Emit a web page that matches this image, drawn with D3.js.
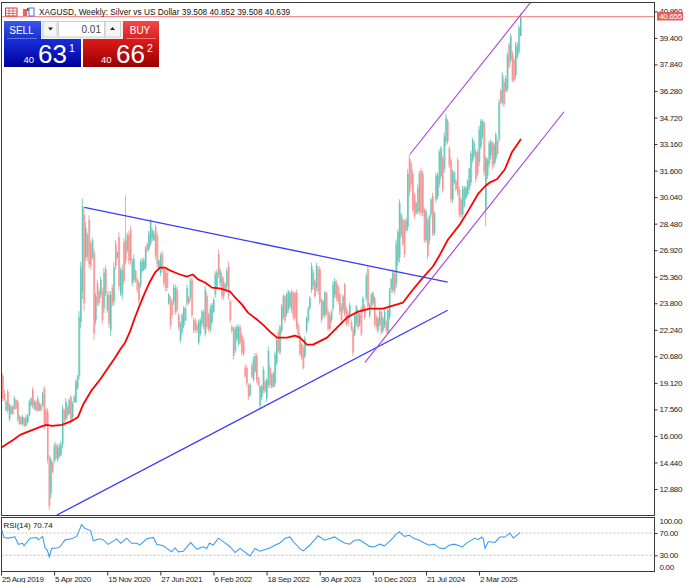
<!DOCTYPE html>
<html><head><meta charset="utf-8">
<script src="https://cdn.jsdelivr.net/npm/d3@7"></script>
<style>html,body{margin:0;padding:0;background:#fff;overflow:hidden}svg{display:block}text{font-family:"Liberation Sans",Arial,sans-serif}</style>
</head><body><svg id="c" width="690" height="583"></svg>
<script>
const priceTicks=[12.88,14.44,16,17.56,19.12,20.68,22.24,23.8,25.36,26.92,28.48,30.04,31.6,33.16,34.72,36.28,37.84,39.4,40.96];
const rsiTicks=[0,30,70,100];
const dateWeeks=[0,32,64,96,128,160,192,224,256,288];
const dateLabels=["25 Aug 2019","5 Apr 2020","15 Nov 2020","27 Jun 2021","6 Feb 2022","18 Sep 2022","30 Apr 2023","10 Dec 2023","21 Jul 2024","2 Mar 2025"];
const lastPrice=40.655;
const highs=[19.70,18.71,18.13,18.75,17.93,17.83,17.83,18.36,18.16,18.13,
17.24,17.18,17.24,17.10,17.24,17.30,18.13,18.28,18.87,18.13,
18.13,18.36,18.03,17.93,18.62,18.95,17.63,17.63,14.88,14.79,
14.49,15.57,15.67,15.47,15.57,15.67,17.83,17.63,18.22,17.83,
18.22,18.42,18.03,18.42,19.30,19.60,23.33,26.22,29.95,29.42,
28.54,27.95,28.97,27.46,27.65,27.00,24.41,25.20,24.65,25.35,
24.71,25.88,26.02,24.51,24.51,24.51,24.90,26.18,27.51,26.87,
27.99,25.88,26.08,27.65,30.15,27.95,28.05,28.34,26.47,26.67,
25.79,25.30,25.10,26.38,26.47,26.47,27.16,27.36,28.05,28.77,
28.24,28.05,28.44,27.95,26.38,26.77,26.87,25.88,25.79,25.79,
24.41,24.22,24.02,24.90,24.90,24.80,23.23,22.74,23.23,23.63,
23.63,24.90,24.22,25.29,25.39,22.93,22.93,22.64,22.84,22.93,
23.43,23.43,24.80,24.41,23.23,23.72,23.82,24.11,25.68,25.78,
26.96,25.88,25.59,25.29,25.00,25.88,26.27,24.01,22.54,22.44,
22.44,22.54,22.54,22.54,22.05,21.76,20.18,20.18,19.10,19.10,
20.28,20.67,20.87,20.87,19.50,19.00,19.00,20.09,19.30,19.40,
21.26,20.18,19.69,19.79,20.97,21.76,22.25,22.54,23.72,24.31,
24.31,24.41,24.60,24.50,24.60,24.50,24.50,24.60,22.64,22.05,
21.46,21.36,21.86,23.03,23.62,24.21,26.18,25.78,25.19,26.18,
25.98,25.98,24.11,24.02,24.51,24.51,23.43,23.23,23.43,25.10,
25.29,25.19,24.90,24.41,23.82,24.31,25.00,23.62,23.33,23.82,
22.84,22.44,23.23,23.72,23.43,23.23,23.62,24.21,23.72,25.59,
25.98,23.82,24.41,24.51,24.21,23.13,23.03,23.43,23.43,23.03,
23.43,22.84,23.52,24.70,25.29,25.78,25.68,27.55,28.14,29.91,
29.12,28.83,28.73,28.83,31.68,32.56,32.17,31.58,30.30,29.81,
30.79,31.58,31.77,31.58,29.42,29.32,28.83,29.02,30.01,30.30,
29.22,31.48,31.48,32.85,33.05,32.46,33.84,34.92,34.62,33.05,
32.36,31.68,31.58,31.09,32.36,30.69,30.01,30.69,30.69,30.69,
31.09,31.77,32.76,33.54,33.35,32.85,32.85,34.23,34.62,34.62,
34.52,32.46,32.36,33.35,33.44,33.35,33.25,33.84,33.44,35.80,
36.40,37.38,36.99,37.18,38.56,39.15,39.64,38.66,38.26,39.15,
39.15,40.13,40.85];
const lows=[18.03,18.03,17.44,17.34,16.85,17.24,17.24,17.54,17.54,16.85,
16.65,16.65,16.59,16.51,16.55,16.75,17.14,17.73,17.63,17.54,
17.44,17.44,17.44,17.44,17.73,16.36,16.51,14.39,11.64,12.33,
13.80,14.39,14.59,14.49,14.69,14.79,15.28,16.75,16.85,17.04,
17.24,16.75,16.95,17.93,17.93,18.71,19.30,22.35,24.02,23.33,
26.28,26.28,25.88,25.79,26.38,21.66,22.55,23.63,23.63,24.12,
22.55,23.23,24.22,23.23,22.35,21.90,23.63,23.63,25.79,26.38,
24.51,24.22,24.02,24.90,26.08,26.77,26.08,26.08,24.80,25.00,
25.00,24.41,23.82,24.71,25.59,25.69,25.79,26.77,26.87,27.16,
27.46,27.46,26.38,25.88,25.69,25.39,25.59,24.80,24.51,24.51,
23.72,22.25,22.94,23.72,23.14,23.23,22.25,21.47,21.96,22.35,
22.74,23.63,23.72,23.92,22.93,22.05,22.05,22.05,21.36,21.85,
22.44,22.25,21.85,22.25,22.15,22.05,22.54,23.23,24.11,24.60,
25.29,24.80,24.01,24.01,24.50,24.60,24.01,22.64,22.05,20.48,
20.87,21.56,21.26,21.36,20.77,20.67,19.40,18.91,18.12,18.32,
19.40,19.20,19.69,19.10,18.91,17.57,18.12,18.52,18.52,18.02,
18.81,18.81,18.81,18.81,18.91,20.18,20.87,20.77,22.05,22.84,
22.64,23.03,23.23,23.52,23.23,22.84,22.74,22.25,21.76,20.68,
20.48,19.89,20.58,22.05,22.64,23.43,24.41,24.60,24.11,24.50,
24.31,23.72,22.64,22.94,22.94,23.03,22.15,22.15,22.64,23.33,
24.11,23.92,23.72,23.13,22.64,23.23,23.03,22.44,22.44,22.94,
22.15,20.68,21.86,22.44,22.25,22.44,21.86,23.23,22.84,23.92,
23.43,22.94,23.52,23.62,22.44,22.25,22.05,22.44,21.95,22.05,
22.35,22.05,21.95,22.84,24.41,24.41,24.31,24.70,26.00,26.18,
27.65,27.16,26.47,27.94,28.04,30.10,30.60,29.12,28.73,29.02,
29.02,29.02,28.93,28.93,27.36,27.36,26.37,27.26,28.83,27.75,
27.75,29.71,29.91,30.60,31.09,30.30,31.48,33.05,33.15,31.77,
29.71,29.71,30.79,30.40,30.10,28.83,28.83,28.83,29.42,29.91,
30.10,30.40,30.69,32.07,32.36,30.89,31.28,31.87,32.85,33.44,
31.28,28.34,31.09,31.77,32.26,31.68,31.77,32.07,32.46,33.25,
35.51,35.42,35.32,36.20,36.20,37.58,37.97,36.79,36.79,36.99,
38.16,38.46,39.51];
const opens=[19.5,18.5,17.5,18.6,17.0,17.3,17.7,17.6,18.1,18.0,
16.7,17.1,16.7,17.0,16.6,16.8,17.2,17.8,18.7,17.6,
18.0,18.2,17.5,17.8,17.8,18.8,17.5,17.4,14.7,12.6,
14.4,14.5,15.5,14.6,14.8,14.9,15.5,17.5,17.0,17.7,
17.3,18.3,17.1,18.0,18.0,18.8,19.5,22.7,24.5,29.0,
26.5,27.8,28.7,27.3,26.5,26.8,22.8,25.0,24.5,24.3,
24.5,23.5,25.8,23.4,24.3,22.2,24.7,23.9,27.3,26.5,
27.7,24.4,24.3,27.4,27.5,26.9,27.8,28.1,25.0,25.2,
25.7,25.2,25.0,24.9,25.7,25.8,25.9,27.3,27.0,27.3,
27.6,27.5,28.3,27.8,25.8,25.6,26.7,25.8,25.6,25.6,
23.8,24.1,23.9,23.9,23.3,24.6,23.1,21.6,22.1,22.5,
22.8,23.8,24.1,24.1,25.2,22.8,22.8,22.5,21.5,22.0,
22.6,23.3,22.0,24.2,23.1,22.2,22.7,23.3,24.3,24.8,
26.7,25.0,25.4,25.1,24.6,24.8,26.0,23.9,22.4,22.3,
21.0,21.7,21.4,22.4,21.9,21.6,20.0,20.0,19.0,18.4,
20.1,19.3,19.8,20.7,19.4,17.8,18.3,18.7,19.2,18.2,
19.0,20.0,19.6,18.9,19.1,20.3,22.1,20.9,22.2,23.0,
24.2,23.2,23.4,23.6,24.5,24.4,24.4,24.4,22.5,21.9,
21.4,21.2,20.7,22.2,22.8,23.5,24.6,24.8,25.1,24.7,
25.8,25.8,24.0,23.1,23.1,24.4,23.3,23.1,22.8,23.5,
24.3,25.0,24.8,24.3,23.7,23.4,24.9,23.5,23.2,23.1,
22.7,22.3,22.0,22.6,23.3,22.6,23.5,23.4,23.6,24.1,
25.8,23.1,23.7,23.8,24.1,23.0,22.2,22.6,23.3,22.2,
22.5,22.7,22.1,23.0,24.6,24.6,25.5,24.9,26.3,26.5,
27.8,28.7,28.6,28.1,28.3,32.3,32.0,31.4,30.2,29.1,
30.6,29.2,31.6,31.4,29.3,27.5,28.7,27.5,29.0,30.1,
27.9,29.9,30.1,30.8,31.3,32.3,31.7,33.3,34.5,32.9,
32.2,29.9,30.9,31.0,32.2,30.5,29.9,29.0,29.5,30.0,
30.2,30.5,30.9,32.2,32.5,32.7,32.7,32.1,33.0,33.6,
34.4,29.3,31.3,32.0,32.5,33.2,32.0,32.3,33.3,33.4,
36.3,35.6,36.8,36.3,36.4,39.0,38.1,38.5,38.1,37.2,
38.3,38.6,39.51];
const closes=[18.2,18.1,18.0,17.5,17.8,17.7,17.3,18.2,17.6,17.0,
17.1,16.7,17.1,16.6,17.1,17.2,18.0,18.2,17.8,18.0,
17.5,17.5,17.9,17.5,18.5,16.6,16.6,14.6,11.9,14.6,
13.9,15.4,14.7,15.3,15.4,15.5,17.6,16.9,18.0,17.2,
18.1,16.9,17.9,18.3,19.2,19.5,23.0,25.9,29.5,23.8,
28.2,26.5,26.1,26.0,27.5,22.0,24.2,23.8,23.8,25.2,
22.8,25.6,24.4,24.3,22.6,24.3,23.8,25.9,26.0,26.8,
24.8,25.7,25.8,25.1,26.3,27.8,26.3,26.3,26.3,26.4,
25.1,24.6,24.0,26.2,26.3,26.3,27.0,26.9,27.9,28.6,
28.1,27.9,26.6,26.1,26.3,26.6,25.8,25.0,24.7,24.7,
24.3,22.5,23.1,24.7,24.7,23.4,22.4,22.6,23.1,23.5,
23.5,24.7,23.8,25.1,23.1,22.2,22.2,22.2,22.7,22.8,
23.3,22.4,24.6,22.4,22.3,23.5,23.7,24.0,25.5,25.6,
25.5,25.7,24.2,24.2,24.9,25.7,24.2,22.8,22.2,20.7,
22.3,22.4,22.4,21.5,20.9,20.8,19.5,19.1,18.3,19.0,
19.5,20.5,20.7,19.3,19.0,18.9,18.9,19.9,18.6,19.3,
21.0,19.0,18.9,19.7,20.8,21.6,21.0,22.4,23.6,24.2,
22.8,24.3,24.5,24.4,23.4,23.0,22.9,22.4,21.9,20.8,
20.6,20.0,21.7,22.9,23.5,24.1,26.0,25.6,24.2,26.0,
24.5,23.9,22.8,23.9,24.4,23.2,22.3,22.3,23.3,24.9,
25.1,24.1,23.9,23.3,22.8,24.2,23.2,22.6,22.6,23.7,
22.3,20.9,23.1,23.6,22.4,23.1,22.0,24.1,23.0,25.4,
23.6,23.7,24.3,24.4,22.6,22.4,22.9,23.3,22.1,22.9,
23.3,22.2,23.4,24.5,25.2,25.6,24.5,27.3,28.0,29.7,
29.0,27.3,26.7,28.7,31.4,30.3,30.8,29.3,28.9,29.7,
29.2,31.4,29.1,29.1,27.5,29.2,26.6,28.9,29.9,27.9,
29.1,31.3,31.3,32.7,32.9,30.5,33.6,34.7,33.3,31.9,
29.9,31.5,31.5,30.5,30.3,29.0,29.0,30.5,30.6,30.6,
31.0,31.7,32.6,33.4,33.2,31.1,31.4,34.0,34.5,34.5,
31.5,32.3,32.2,33.2,33.3,31.9,33.1,33.7,32.6,35.6,
35.6,37.2,35.5,37.0,38.4,37.7,39.5,36.9,36.9,38.9,
39.0,40.0,40.64];
const maWeeks=[0,8.4,11.4,17.5,25.3,27.7,30.7,36.7,42.8,46.4,49.4,54.8,59.6,68.7,71.7,74.7,77.7,80.7,83.7,86.7,89.8,92.8,95.8,98.8,101.8,104.8,107.8,111.9,115.5,118.7,122.9,127.1,131.9,138,141,145.2,148.8,154.2,157.8,162,166.3,172.3,177.1,180.1,184.3,188,196.4,202.4,208.4,215.1,222.3,230.1,236.1,242.2,248.2,254.2,260.2,264.5,269.3,276.5,281.3,287.3,291.6,294.6,298.8,303.6,307.8,313.3];
const maValues=[15.30,15.83,16.06,16.30,16.59,16.65,16.59,16.65,16.89,17.12,17.83,18.71,19.30,20.60,21.07,21.48,22.13,22.96,23.72,24.43,25.08,25.61,25.90,25.90,25.73,25.61,25.49,25.37,25.49,25.20,25.02,24.72,24.67,24.49,24.14,23.72,23.25,22.84,22.54,22.13,21.78,21.78,21.90,21.78,21.37,21.37,21.78,22.37,22.96,23.31,23.49,23.49,23.66,23.84,24.61,25.31,25.96,26.67,27.55,28.44,29.20,30.21,30.68,30.91,31.09,31.68,32.68,33.45];
const rsiWeeks=[0.4,1.8,4.4,8.4,10.4,13,13.9,17.5,21.5,22.5,25.1,26.5,27.9,29.1,30.5,34.5,35.5,38.6,42.6,45.6,48.6,50.6,54,55.6,59.6,61.6,64.6,69.7,72.1,75.7,78.7,81.7,83.7,87.8,91.8,93.8,97.8,102.8,104.8,106.8,109.8,114.3,117.9,121.9,123.9,125.5,127.9,130.9,133.9,138,141,144,150,153,156,162,165,168,171,174,176,178,180,182,186,189,191,195,198,201,204,207,210,213,216,219,222,225,228,231,234,236,238,240,243,246,249,252,255,258,261,264,267,270,273,276,278,280.5,285.5,287.5,289.6,290.6,291.6,293.6,297.6,300.6,303.6,306.6,308.6,312.7];
const rsiValues=[76.2,62,60.8,63.2,49.7,51.6,47.2,60.8,62,57.7,63.9,43.6,39.3,27,42.3,43.6,45.4,57.7,59.5,63.9,85.4,78,74.3,55.9,59.5,57.7,49.7,59.5,51.6,60.8,51.6,51.6,48.5,59.5,62,49.7,47.2,36.2,43.6,36.2,37.4,52.8,41.1,45.4,42.3,51.6,48.5,60.8,54.6,45.4,35,42.3,28.8,42.3,37.4,43,48,52,60,63,55,48.5,42,38,48,58,65,57,60,63,57,52,50,57,58,52,46,45,50,47,55,61,68,72,64,66,60,57,52,48,50,43,42,48,50,47,45,51.8,60.9,57.9,62.7,59.1,42.7,54.8,53,62.7,62.7,70,60.9,70.74];
const blueUpperWeeks=[50.2,269.1], blueUpperPrices=[29.44,25.04];
const blueLowerWeeks=[33.7,269.1], blueLowerPrices=[11.35,23.39];
const purpleUpperWeeks=[246.4,319.3], purpleUpperPrices=[32.56,41.52];
const purpleLowerWeeks=[219.3,339.2], purpleLowerPrices=[20.32,35.06];

const svg=d3.select("#c");
const L=1.5,R=654.5,T=3,MB=515.5,RT=517.5,RB=571.5;
const x=d3.scaleLinear().domain([0,393.4]).range([1,654]);
const y=d3.scaleLinear().domain([12.88,39.4]).range([489,37.9]);
const ry=d3.scaleLinear().domain([0,100]).range([572,516.3]);
const defs=svg.append("defs");
function grad(id,a,b){const g=defs.append("linearGradient").attr("id",id).attr("x1",0).attr("x2",0).attr("y1",0).attr("y2",1);
 g.append("stop").attr("offset",0).attr("stop-color",a);g.append("stop").attr("offset",1).attr("stop-color",b);}
grad("sellTop","#3f55ee","#1530c8");grad("sellLow","#1a2fd8","#00009a");grad("buyTop","#f44848","#d82020");grad("buyLow","#de1a1a","#9a0000");
defs.append("clipPath").attr("id","m").append("rect").attr("x",L).attr("y",T).attr("width",R-L).attr("height",MB-T);
defs.append("clipPath").attr("id","r").append("rect").attr("x",L).attr("y",RT).attr("width",R-L).attr("height",RB-RT);
const main=svg.append("g").attr("clip-path","url(#m)");
const bars=highs.map((h,i)=>({w:i+1,h,l:lows[i],o:opens[i],c:closes[i],up:closes[i]>=opens[i]}));
main.append("g").selectAll("rect").data(bars).join("rect")
 .attr("x",d=>x(d.w)-0.5).attr("width",1.8)
 .attr("y",d=>y(Math.max(d.o,d.c))).attr("height",d=>Math.abs(y(d.o)-y(d.c)))
 .attr("fill",d=>d.up?"#92d8cd":"#ffacac");
main.append("g").selectAll("line").data(bars).join("line")
 .attr("x1",d=>x(d.w)).attr("x2",d=>x(d.w)).attr("y1",d=>y(d.h)).attr("y2",d=>y(d.l))
 .attr("stroke",d=>d.up?"#4fbcac":"#f28a8a").attr("stroke-width",0.75);
const ln=d3.line().x(d=>x(d[0])).y(d=>y(d[1]));
const pairs=(a,b)=>a.map((v,i)=>[v,b[i]]);
main.append("path").attr("d",ln(pairs(maWeeks,maValues))).attr("fill","none").attr("stroke","#ff0000").attr("stroke-width",1.8).attr("stroke-linejoin","round");
[[blueUpperWeeks,blueUpperPrices,"#3a3af8"],[blueLowerWeeks,blueLowerPrices,"#3a3af8"]].forEach(t=>
 main.append("path").attr("d",ln(pairs(t[0],t[1]))).attr("fill","none").attr("stroke",t[2]).attr("stroke-width",1.3));
main.append("line").attr("x1",L).attr("x2",R).attr("y1",y(lastPrice)).attr("y2",y(lastPrice)).attr("stroke","#f79090").attr("stroke-width",1.2);
const over=svg.append("g");
over.append("path").attr("d",ln(pairs(purpleLowerWeeks,purpleLowerPrices))).attr("fill","none").attr("stroke","#a83fe0").attr("stroke-width",1.1);
main.append("path").attr("d",ln(pairs(purpleUpperWeeks,purpleUpperPrices))).attr("fill","none").attr("stroke","#a83fe0").attr("stroke-width",1.1);
const frame=svg.append("g").attr("fill","none").attr("stroke","#3a3a3a").attr("stroke-width",1);
frame.append("rect").attr("x",L).attr("y",T-0.5).attr("width",R-L).attr("height",MB-T+0.5);
frame.append("rect").attr("x",L).attr("y",RT).attr("width",R-L).attr("height",RB-RT);
const rp=svg.append("g").attr("clip-path","url(#r)");
[70,30].forEach(v=>rp.append("line").attr("x1",L).attr("x2",R).attr("y1",ry(v)).attr("y2",ry(v)).attr("stroke","#bdbdbd").attr("stroke-dasharray","2,2"));
rp.append("path").attr("d",d3.line().x(d=>x(d[0])).y(d=>ry(d[1]))(pairs(rsiWeeks,rsiValues))).attr("fill","none").attr("stroke","#3a9bf5").attr("stroke-width",1.05);
svg.append("text").attr("x",3.5).attr("y",527.7).attr("font-size",7.9).attr("fill","#111").text("RSI(14) 70.74");
function style(g){g.select(".domain").remove();g.selectAll("line").attr("stroke","#333");g.selectAll("text").attr("fill","#222").attr("font-size",8).attr("letter-spacing","-0.3px").attr("font-family",'"Liberation Sans",Arial,sans-serif');}
svg.append("g").attr("transform",`translate(${R},0)`).call(d3.axisRight(y).tickValues(priceTicks).tickSize(3).tickPadding(2).tickFormat(d3.format(".3f"))).call(style);
svg.append("g").attr("transform",`translate(${R},0)`).call(d3.axisRight(ry).tickValues(rsiTicks.filter(v=>v!==0&&v!==100)).tickSize(3).tickPadding(2).tickFormat(d3.format(".2f"))).call(style);
[[100,521],[0,567]].forEach(a=>svg.append("text").attr("x",659.5).attr("y",a[1]+3).attr("font-size",8).attr("letter-spacing","-0.3px").attr("fill","#222").text(d3.format(".2f")(a[0])));
const xa=svg.append("g").attr("transform",`translate(0,${RB})`).call(d3.axisBottom(x).tickValues(dateWeeks).tickSize(4).tickFormat((d,i)=>dateLabels[i])).call(style);
xa.selectAll("text").attr("text-anchor","start").attr("dy",0).attr("y",10).attr("x",0.5);
svg.append("rect").attr("x",657).attr("y",12).attr("width",26).attr("height",8.5).attr("fill","#ef5a5a");
svg.append("text").attr("x",659.2).attr("y",19.2).attr("font-size",8).attr("letter-spacing","-0.3px").attr("fill","#fff").text(d3.format(".3f")(lastPrice));
svg.append("text").attr("x",39).attr("y",14.5).attr("font-size",8.3).attr("fill","#111").text("XAGUSD, Weekly:  Silver vs US Dollar  39.508 40.852 39.508 40.639");
const ic=svg.append("g");
ic.append("rect").attr("x",5.5).attr("y",8).attr("width",11.5).attr("height",8).attr("fill","#fff").attr("stroke","#e03838").attr("stroke-width",1);
ic.append("path").attr("d","M9 8V16M13 8V16M6 11H17M6 13.5H17").attr("stroke","#e03838").attr("stroke-width",0.7);
ic.append("rect").attr("x",23).attr("y",9).attr("width",4).attr("height",7).attr("fill","#f06060");
ic.append("rect").attr("x",29).attr("y",8).attr("width",5).attr("height",8).attr("fill","#fff").attr("stroke","#3a7be0");
ic.append("rect").attr("x",27).attr("y",8).attr("width",1.5).attr("height",3).attr("fill","#555");
const tp=svg.append("g");
tp.append("rect").attr("x",41).attr("y",21).attr("width",82).attr("height",18).attr("fill","#f0f0f0");
tp.append("rect").attr("x",4).attr("y",21).attr("width",37).attr("height",18.5).attr("fill","url(#sellTop)");
tp.append("rect").attr("x",123).attr("y",21).attr("width",36).attr("height",18.5).attr("fill","url(#buyTop)");
tp.append("rect").attr("x",4).attr("y",39).attr("width",77).attr("height",28).attr("fill","url(#sellLow)");
tp.append("rect").attr("x",83).attr("y",39).attr("width",76).attr("height",28).attr("fill","url(#buyLow)");
tp.append("rect").attr("x",43).attr("y",21.5).attr("width",14).attr("height",15.5).attr("fill","#f5f5f5").attr("stroke","#cfcfcf");
tp.append("rect").attr("x",58.5).attr("y",21.5).attr("width",46).attr("height",15.5).attr("fill","#fff").attr("stroke","#cfcfcf");
tp.append("rect").attr("x",105).attr("y",21.5).attr("width",15.5).attr("height",15.5).attr("fill","#f5f5f5").attr("stroke","#cfcfcf");
tp.append("path").attr("d","M48 27.5h5l-2.5 3z").attr("fill","#222");
tp.append("path").attr("d","M110 30h5l-2.5-3z").attr("fill","#222");
tp.append("path").attr("d","M7 38.5H37").attr("stroke","#8fa0ff").attr("stroke-width",0.6);
tp.append("path").attr("d","M126 38.5H156").attr("stroke","#ffb0b0").attr("stroke-width",0.6);
const tx=(s,xx,yy,fs,c,a)=>tp.append("text").attr("x",xx).attr("y",yy).attr("font-size",fs).attr("fill",c).attr("text-anchor",a||"start").text(s);
tx("SELL",21.5,33.5,10,"#fff","middle");tx("BUY",140,33.5,10,"#fff","middle");tx("0.01",101,32.5,10,"#444","end");
tx("40",23.5,63,9.5,"#fff");tx("63",38,63,26,"#fff");tx("1",69,52,10.5,"#fff");
tx("40",101,63,9.5,"#fff");tx("66",116,63,26,"#fff");tx("2",147,52,10.5,"#fff");
</script></body></html>
